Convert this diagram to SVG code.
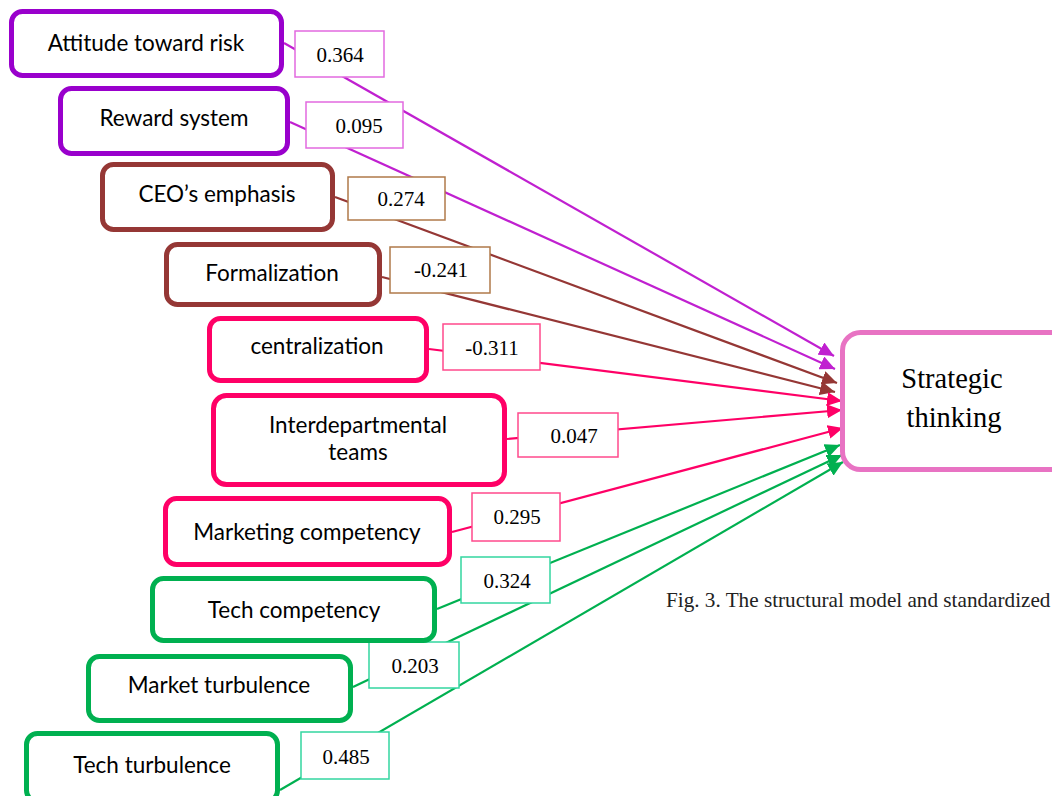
<svg xmlns="http://www.w3.org/2000/svg" width="1052" height="796" viewBox="0 0 1052 796">
<defs>
<style>
.node rect{fill:#fff;stroke-width:5}
.node text{font-family:Lato,"Liberation Sans",sans-serif;font-size:22.5px;fill:#000;text-anchor:middle}
.pu rect{stroke:#9900CC}
.br rect{stroke:#953735}
.pk rect{stroke:#FF0066}
.gr rect{stroke:#00B050}
.c{fill:none;stroke-width:2.2}
.cpu{stroke:#C020D0;marker-end:url(#apu)}
.cbr{stroke:#953735;marker-end:url(#abr)}
.cpk{stroke:#FF0066;marker-end:url(#apk)}
.cgr{stroke:#00B050;marker-end:url(#agr)}
.lb rect{fill:#fff;stroke-width:1.5}
.lb text{font-family:"Liberation Serif","Times New Roman",serif;font-size:21px;fill:#000;text-anchor:middle}
.lpu rect{stroke:#E26ADF}
.lbr rect{stroke:#B07A4A}
.lpk rect{stroke:#FF4A8C}
.lgr rect{stroke:#33D6A0}
</style>
<marker id="apu" markerUnits="userSpaceOnUse" markerWidth="16" markerHeight="14" refX="15" refY="7" orient="auto"><path d="M0,0 L15,7 L0,14 Z" fill="#C020D0"/></marker>
<marker id="abr" markerUnits="userSpaceOnUse" markerWidth="16" markerHeight="14" refX="15" refY="7" orient="auto"><path d="M0,0 L15,7 L0,14 Z" fill="#953735"/></marker>
<marker id="apk" markerUnits="userSpaceOnUse" markerWidth="16" markerHeight="14" refX="15" refY="7" orient="auto"><path d="M0,0 L15,7 L0,14 Z" fill="#FF0066"/></marker>
<marker id="agr" markerUnits="userSpaceOnUse" markerWidth="16" markerHeight="14" refX="15" refY="7" orient="auto"><path d="M0,0 L15,7 L0,14 Z" fill="#00B050"/></marker>
</defs>
<rect width="1052" height="796" fill="#fff"/>
<g id="connectors">
<line class="c cpu" x1="284" y1="43" x2="834" y2="356"/>
<line class="c cpu" x1="290" y1="122" x2="835" y2="369"/>
<line class="c cbr" x1="335" y1="197" x2="837" y2="383"/>
<line class="c cbr" x1="382" y1="277" x2="835" y2="392"/>
<line class="c cpk" x1="429" y1="349" x2="842" y2="401"/>
<line class="c cpk" x1="507" y1="439" x2="842" y2="410"/>
<line class="c cpk" x1="452" y1="532" x2="843" y2="428"/>
<line class="c cgr" x1="437" y1="609" x2="840" y2="445"/>
<line class="c cgr" x1="353" y1="687" x2="842" y2="455"/>
<line class="c cgr" x1="280" y1="790" x2="843" y2="462"/>
<g class="lb lpu"><rect x="295" y="31" width="89" height="46"/><text x="340" y="62">0.364</text></g>
<g class="lb lpu"><rect x="306" y="102" width="97" height="46"/><text x="359" y="133">0.095</text></g>
<g class="lb lbr"><rect x="348" y="177" width="97" height="43"/><text x="401" y="206">0.274</text></g>
<g class="lb lbr"><rect x="390" y="247" width="100" height="46"/><text x="441" y="277">-0.241</text></g>
<g class="lb lpk"><rect x="443" y="324" width="97" height="46"/><text x="492" y="355">-0.311</text></g>
<g class="lb lpk"><rect x="518" y="413" width="100" height="44"/><text x="574" y="443">0.047</text></g>
<g class="lb lpk"><rect x="472" y="493" width="88" height="48"/><text x="517" y="524">0.295</text></g>
<g class="lb lgr"><rect x="461" y="557" width="89" height="46"/><text x="507" y="588">0.324</text></g>
<g class="lb lgr"><rect x="369" y="642" width="90" height="46"/><text x="415" y="673">0.203</text></g>
<g class="lb lgr"><rect x="301" y="732" width="88" height="47"/><text x="346" y="764">0.485</text></g>
</g>
<g id="n1" class="node pu"><rect x="11.5" y="11.5" width="270" height="64" rx="11"/><text x="146" y="51">Attitude toward risk</text></g>
<g id="n2" class="node pu"><rect x="60.5" y="88.5" width="227" height="65" rx="11"/><text x="174" y="126">Reward system</text></g>
<g id="n3" class="node br"><rect x="102.5" y="164.5" width="230" height="65" rx="11"/><text x="217" y="202">CEO’s emphasis</text></g>
<g id="n4" class="node br"><rect x="166.5" y="244.5" width="213" height="60" rx="11"/><text x="272" y="281">Formalization</text></g>
<g id="n5" class="node pk"><rect x="209.5" y="318.5" width="217" height="62" rx="11"/><text x="317" y="354">centralization</text></g>
<g id="n6" class="node pk"><rect x="213.5" y="395.5" width="291" height="89" rx="13"/><text x="358" y="433">Interdepartmental</text><text x="358" y="460">teams</text></g>
<g id="n7" class="node pk"><rect x="165.5" y="498.5" width="284" height="66" rx="11"/><text x="307" y="540">Marketing competency</text></g>
<g id="n8" class="node gr"><rect x="152.5" y="578.5" width="282" height="62" rx="11"/><text x="294" y="618">Tech competency</text></g>
<g id="n9" class="node gr"><rect x="88.5" y="656.5" width="262" height="64" rx="11"/><text x="219" y="693">Market turbulence</text></g>
<g id="n10" class="node gr"><rect x="26.5" y="733.5" width="251" height="68" rx="11"/><text x="152" y="773">Tech turbulence</text></g>
<g id="target"><rect x="842.5" y="332.5" width="230" height="137" rx="18" fill="#fff" stroke="#E873C3" stroke-width="5"/><text x="952" y="388" font-family="'Liberation Serif','Times New Roman',serif" font-size="28.5" text-anchor="middle">Strategic</text><text x="954" y="427" font-family="'Liberation Serif','Times New Roman',serif" font-size="28.5" text-anchor="middle">thinking</text></g>
<text id="caption" x="666" y="607" font-family="'Liberation Serif','Times New Roman',serif" font-size="21.2" fill="#222">Fig. 3. The structural model and standardized</text>
</svg>
